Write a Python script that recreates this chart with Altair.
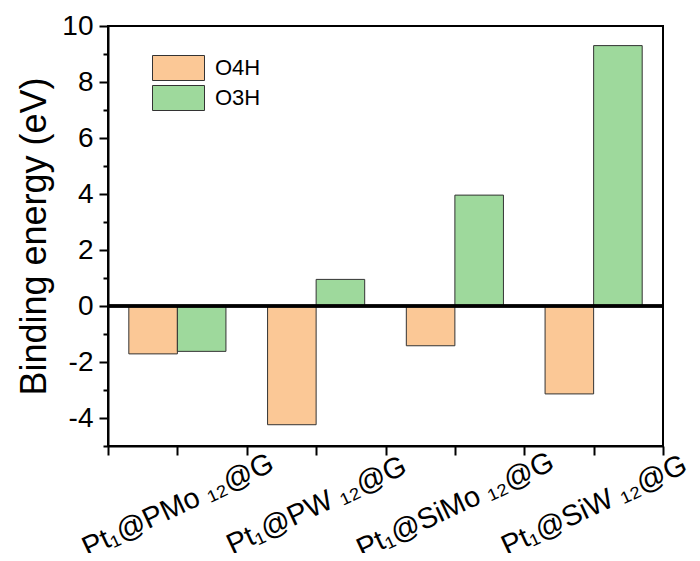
import altair as alt
import pandas as pd

categories = ["Pt₁@PMo ₁₂@G", "Pt₁@PW ₁₂@G", "Pt₁@SiMo ₁₂@G", "Pt₁@SiW ₁₂@G"]
series = ["O4H", "O3H"]
o4h = [-1.71, -4.24, -1.42, -3.14]
o3h = [-1.62, 0.95, 3.96, 9.30]
colors = ["#FBC896", "#9ED99C"]
major_y = [-4, -2, 0, 2, 4, 6, 8, 10]
minor_y = [-5, -3, -1, 1, 3, 5, 7, 9]

rows = []
for i, c in enumerate(categories):
    rows.append({"idx": i + 1, "cat": c, "series": "O4H", "sidx": 0, "value": o4h[i]})
    rows.append({"idx": i + 1, "cat": c, "series": "O3H", "sidx": 1, "value": o3h[i]})
df = pd.DataFrame(rows)

FONT = "Liberation Sans"
label_expr = " : ".join(
    [f"datum.value == {i+1} ? '{c}'" for i, c in enumerate(categories)]
) + " : ''"

xscale = alt.Scale(domain=[0.5, 4.5], nice=False, zero=False)
yscale = alt.Scale(domain=[-5, 10], nice=False)

bars = alt.Chart(df).transform_calculate(
    x0="datum.idx - 0.35 + datum.sidx * 0.35",
    x1="datum.idx + datum.sidx * 0.35",
).mark_bar(stroke="#333333", strokeWidth=1).encode(
    x=alt.X("x0:Q", scale=xscale, title=None,
            axis=alt.Axis(values=[0.5, 1, 1.5, 2, 2.5, 3, 3.5, 4, 4.5],
                          labelExpr=label_expr, labelAngle=335,
                          labelAlign="center", labelBaseline="middle",
                          labelPadding=50, labelFontSize=29, labelFont=FONT,
                          labelOverlap=False, labelFlush=False, labelBound=False,
                          labelLimit=0,
                          tickSize=9, tickWidth=2, tickColor="black",
                          domainColor="black", domainWidth=2, grid=False,
                          labelColor="black")),
    x2="x1:Q",
    y=alt.Y("value:Q", scale=yscale, title="Binding energy (eV)",
            axis=alt.Axis(values=major_y,
                          labelExpr="toString(datum.value)",
                          labelOverlap=False,
                          tickSize=9,
                          tickWidth=2, tickColor="black", domainColor="black", domainWidth=2,
                          labelFontSize=28, labelFont=FONT, labelPadding=6, labelColor="black",
                          titleFontSize=36, titleFont=FONT, titleFontWeight="normal",
                          titleColor="black", titleX=-63, titleBaseline="alphabetic",
                          grid=False)),
    y2=alt.datum(0),
    color=alt.Color("series:N", scale=alt.Scale(domain=series, range=colors),
                    legend=alt.Legend(title=None, orient="none", legendX=57.5, legendY=29,
                                      symbolType="M-2.08,-1H2.08V1H-2.08Z", symbolSize=625,
                                      symbolStrokeColor="#333333", symbolStrokeWidth=1,
                                      symbolOpacity=1,
                                      labelFontSize=22, labelFont=FONT, labelColor="black",
                                      labelOffset=23.5, rowPadding=0, padding=0)),
)

zero = alt.Chart(df).mark_rule(color="black", strokeWidth=2.5).encode(
    y=alt.Y(datum=0, scale=yscale, title=None,
            axis=alt.Axis(values=minor_y, orient="left", labels=False, domain=False,
                          tickSize=5, tickWidth=2, tickColor="black", grid=False,
                          title=None))
)

chart = alt.layer(bars, zero).resolve_scale(y="independent").properties(
    width=555, height=420,
    autosize=alt.AutoSizeParams(type="none"),
    padding={"left": 100, "top": 18, "right": 29, "bottom": 107},
).configure_view(stroke="black", strokeWidth=2)

chart.save("out.html", embed_options={"renderer": "svg", "actions": False})
